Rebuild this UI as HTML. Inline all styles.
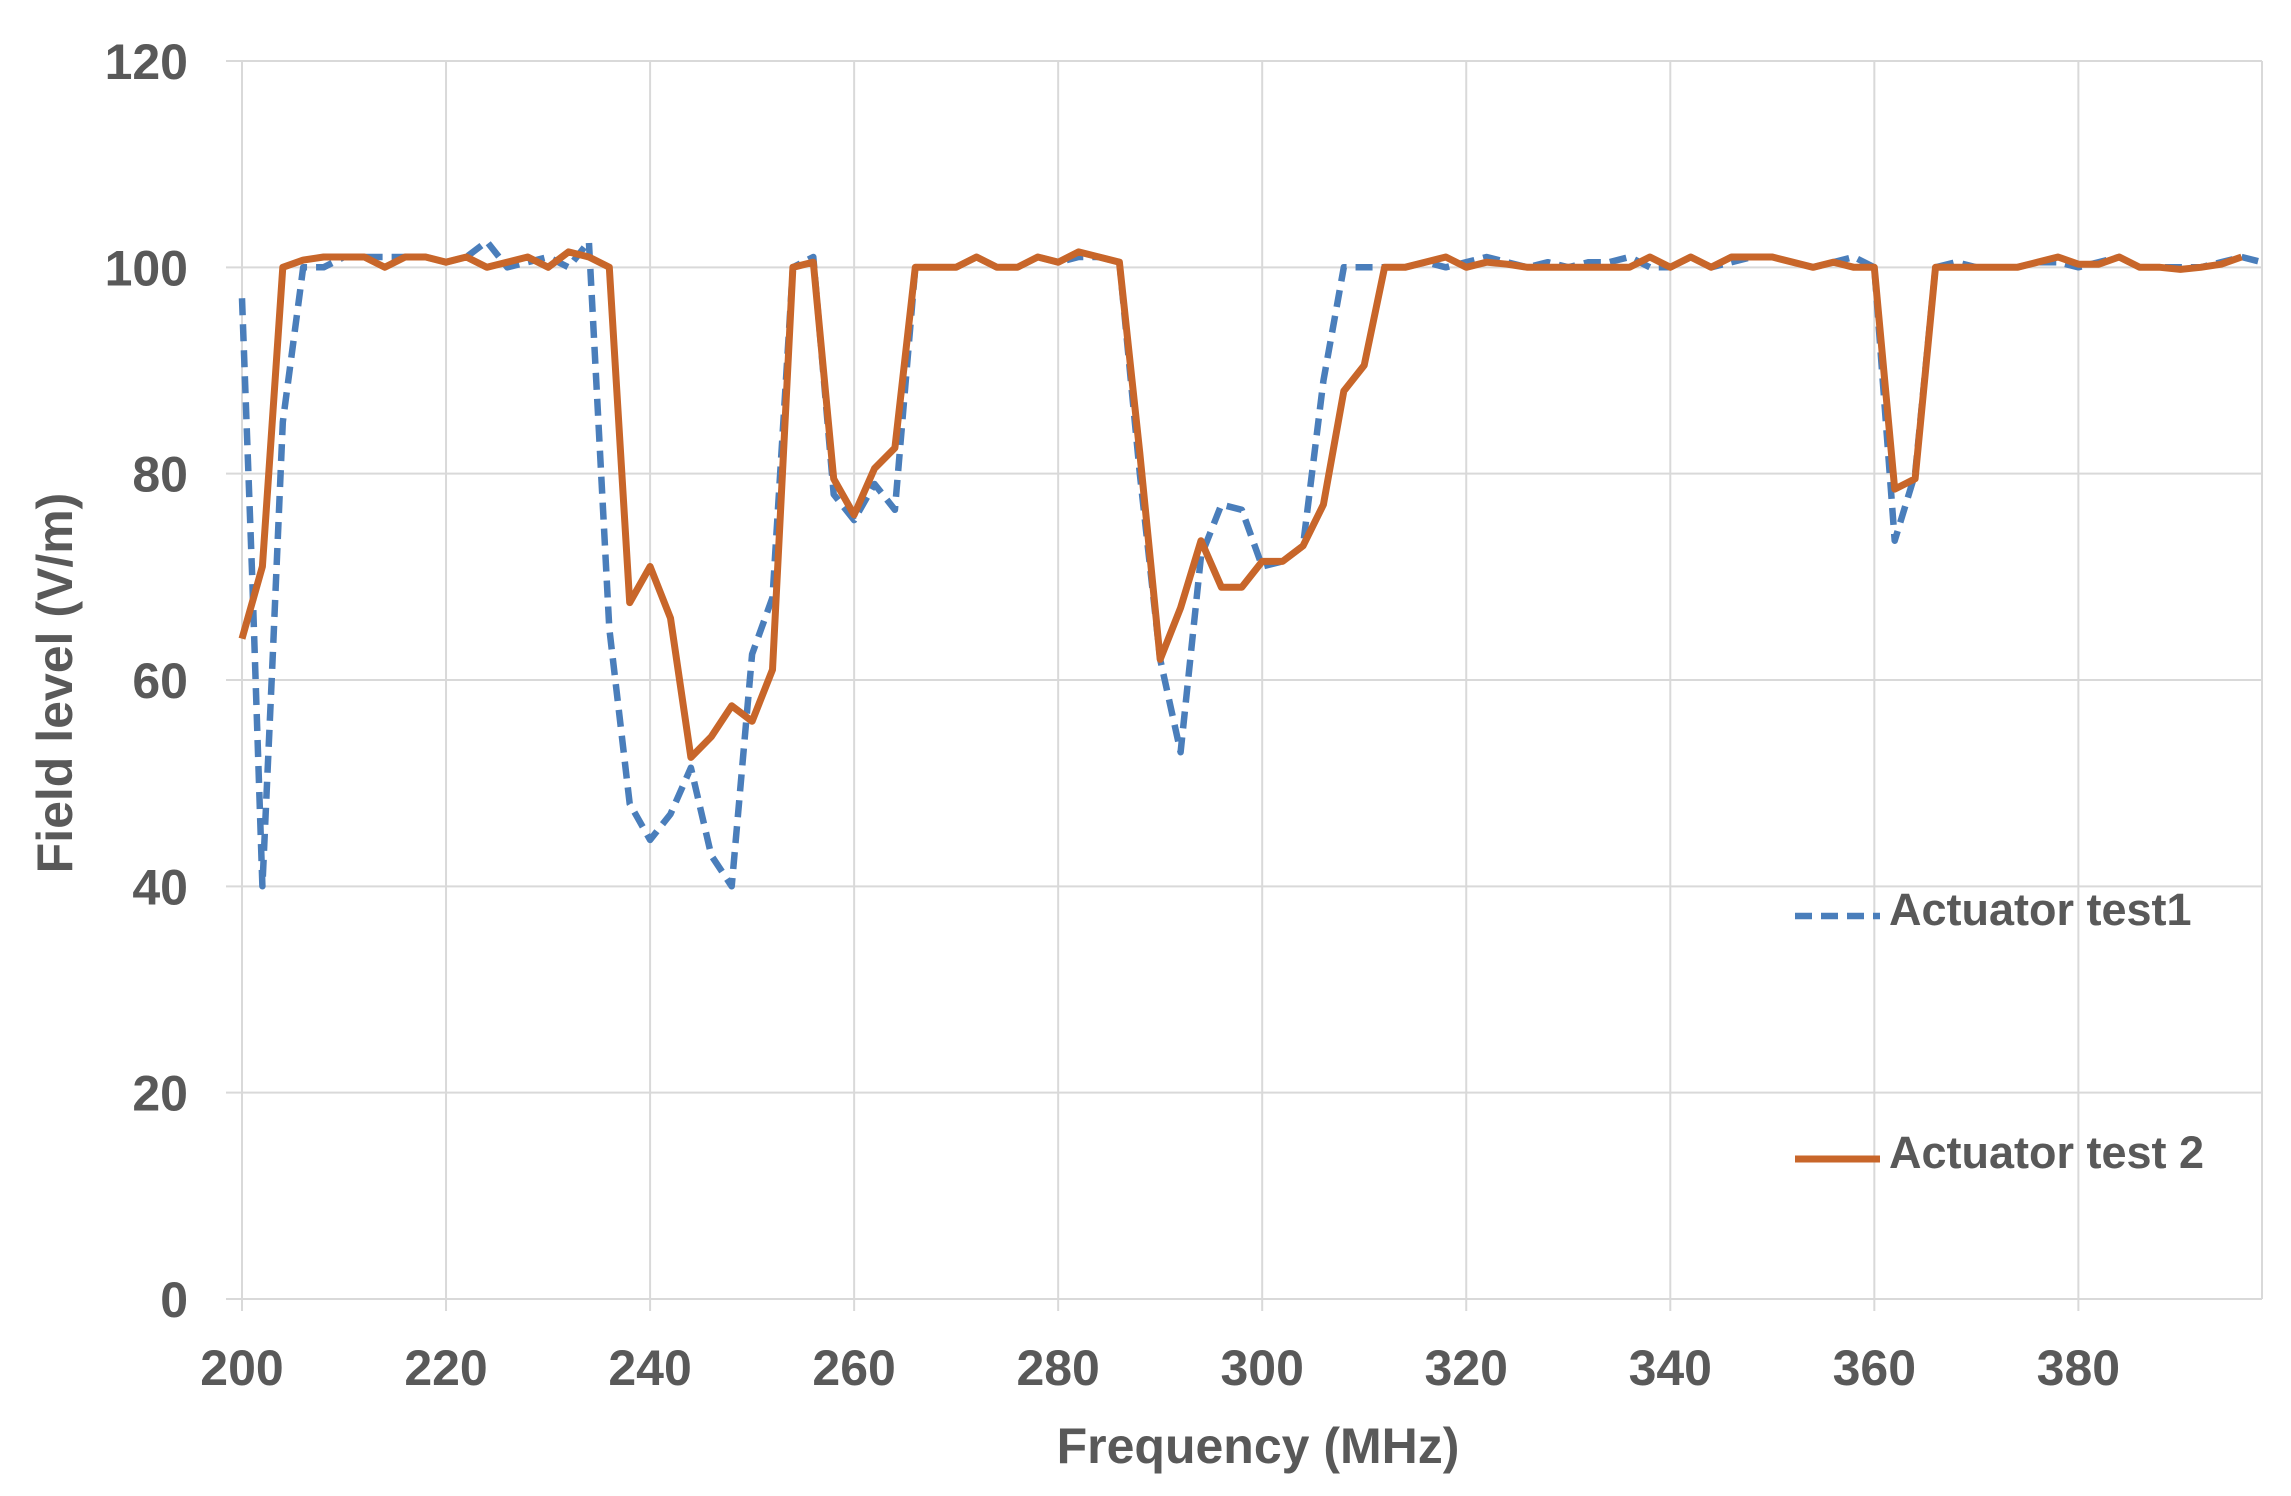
<!DOCTYPE html>
<html><head><meta charset="utf-8"><style>
html,body{margin:0;padding:0;background:#fff;}
svg{display:block;font-family:"Liberation Sans",sans-serif;}
</style></head><body>
<svg id="s" width="2291" height="1496" xmlns="http://www.w3.org/2000/svg">
<g id="grid" stroke="#d9d9d9" stroke-width="2" fill="none"></g>
<g id="lbl" fill="#595959" font-weight="bold" font-size="50"></g>
<text x="1258" y="1463" text-anchor="middle" fill="#595959" font-weight="bold" font-size="50">Frequency (MHz)</text>
<text transform="translate(72,683) rotate(-90)" text-anchor="middle" fill="#595959" font-weight="bold" font-size="50">Field level (V/m)</text>
<polyline id="b" fill="none" stroke="#4a7ebb" stroke-width="6.5" stroke-dasharray="17,9" stroke-linejoin="round"/>
<polyline id="o" fill="none" stroke="#c8662a" stroke-width="7" stroke-linejoin="round"/>
<line x1="1795" y1="916" x2="1880" y2="916" stroke="#4a7ebb" stroke-width="6.5" stroke-dasharray="17,9"/>
<text x="1889" y="925" fill="#595959" font-weight="bold" font-size="45">Actuator test1</text>
<line x1="1795" y1="1159" x2="1880" y2="1159" stroke="#c8662a" stroke-width="7"/>
<text x="1889" y="1168" fill="#595959" font-weight="bold" font-size="45">Actuator test 2</text>
</svg>
<script>
var L=242,R=2262,T=61,B=1299;
function X(f){return L+(f-200)/198*(R-L);}
function Y(v){return B-v/120*(B-T);}
var g=document.getElementById('grid'),lb=document.getElementById('lbl'),ns='http://www.w3.org/2000/svg';
function el(p,t,a,txt){var e=document.createElementNS(ns,t);for(var k in a)e.setAttribute(k,a[k]);if(txt!=null)e.textContent=txt;p.appendChild(e);}
for(var v=0;v<=120;v+=20){el(g,'line',{x1:L-16,x2:R,y1:Y(v),y2:Y(v)});el(lb,'text',{x:188,y:Y(v)+18,'text-anchor':'end'},v);}
for(var f=200;f<=380;f+=20){el(g,'line',{x1:X(f),x2:X(f),y1:T,y2:B+12});el(lb,'text',{x:X(f),y:1385,'text-anchor':'middle'},f);}
el(g,'line',{x1:R,x2:R,y1:T,y2:B});
var b={200:97,201:70,202:40,203:62,204:85,206:100,208:100,210:101,212:101,214:101,216:101,218:101,220:100.5,222:101,224:102.5,226:100,228:100.5,230:101,232:100,234:102.5,236:65,238:48,240:44.5,242:47,244:51.5,246:43,248:40,250:62.5,252:68,254:100,256:101,258:78,260:75.5,262:79,264:76.5,266:100,268:100,270:100,272:101,274:100,276:100,278:101,280:100.5,282:101,284:101,286:100.5,288:80,290:62,292:53,294:72,296:77,298:76.5,300:71,302:71.5,304:73,306:89,308:100,310:100,312:100,314:100,316:100.5,318:100,320:100.5,322:101,324:100.5,326:100,328:100.5,330:100,332:100.5,334:100.5,336:101,338:100,340:100,342:101,344:100,346:100.5,348:101,350:101,352:100.5,354:100,356:100.5,358:101,360:100,362:73.5,364:80,366:100,368:100.5,370:100,372:100,374:100,376:100.5,378:100.5,380:100,382:100.5,384:101,386:100,388:100,390:100,392:100,394:100.5,396:101,398:100.5};
var o={200:64,202:71,204:100,206:100.7,208:101,210:101,212:101,214:100,216:101,218:101,220:100.5,222:101,224:100,226:100.5,228:101,230:100,232:101.5,234:101,236:100,238:67.5,240:71,242:66,244:52.5,246:54.5,248:57.5,250:56,252:61,254:100,256:100.5,258:79.5,260:76,262:80.5,264:82.5,266:100,268:100,270:100,272:101,274:100,276:100,278:101,280:100.5,282:101.5,284:101,286:100.5,288:82,290:62,292:67,294:73.5,296:69,298:69,300:71.5,302:71.5,304:73,306:77,308:88,310:90.5,312:100,314:100,316:100.5,318:101,320:100,322:100.5,324:100.3,326:100,328:100,330:100,332:100,334:100,336:100,338:101,340:100,342:101,344:100,346:101,348:101,350:101,352:100.5,354:100,356:100.5,358:100,360:100,362:78.5,364:79.5,366:100,368:100,370:100,372:100,374:100,376:100.5,378:101,380:100.3,382:100.3,384:101,386:100,388:100,390:99.8,392:100,394:100.3,396:101};
function pts(d){return Object.keys(d).map(Number).sort(function(a,c){return a-c}).map(function(f){return X(f).toFixed(1)+','+Y(d[f]).toFixed(1)}).join(' ');}
document.getElementById('b').setAttribute('points',pts(b));
document.getElementById('o').setAttribute('points',pts(o));
</script>
</body></html>
